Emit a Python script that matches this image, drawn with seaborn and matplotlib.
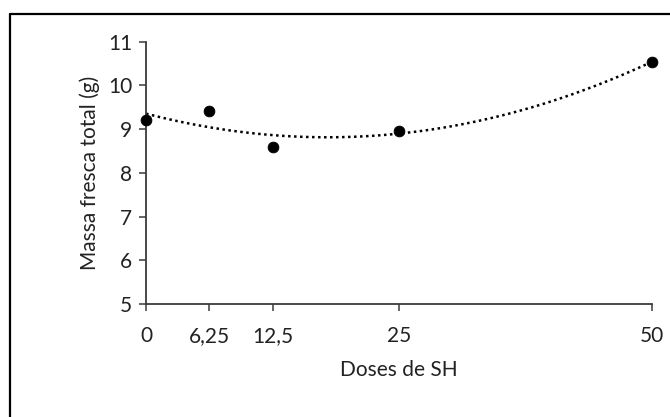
import numpy as np
import pandas as pd
import seaborn as sns
import matplotlib.pyplot as plt
from matplotlib.lines import Line2D

# dados
doses = [0, 6.25, 12.5, 25, 50]
massa = [9.22, 9.41, 8.58, 8.95, 10.54]
xticks = [0, 6.25, 12.5, 25, 50]
xtick_labels = ['0', '6,25', '12,5', '25', '50']
yticks = [5, 6, 7, 8, 9, 10, 11]

df = pd.DataFrame({'dose': doses, 'massa': massa})

sns.set_style('white')
plt.rcParams['font.family'] = ['Lato', 'DejaVu Sans']

fig = plt.figure(figsize=(6.7, 4.17), dpi=100)
ax = fig.add_axes([0.218, 0.271, 0.755, 0.629])

# linha de tendência polinomial (ordem 2), pontilhada
sns.regplot(data=df, x='dose', y='massa', order=2, ci=None, scatter=False,
            line_kws={'color': 'black', 'linestyle': (0, (1, 1.4)), 'linewidth': 1.8},
            ax=ax)
sns.scatterplot(data=df, x='dose', y='massa', color='black', s=60,
                edgecolor='black', clip_on=False, zorder=5, ax=ax)

ax.set_xlim(0, 50)
ax.set_ylim(5, 11)
ax.set_xticks(xticks)
ax.set_xticklabels(xtick_labels)
ax.set_yticks(yticks)

for s in ['top', 'right']:
    ax.spines[s].set_visible(False)
for s in ['left', 'bottom']:
    ax.spines[s].set_color('#3a3a3a')
    ax.spines[s].set_linewidth(1.3)

ax.tick_params(axis='both', direction='out', length=5, width=1.1, color='#3a3a3a',
               labelsize=15, labelcolor='#222222', left=True, bottom=True)
ax.tick_params(axis='x', pad=11)
ax.tick_params(axis='y', pad=5)

ax.set_xlabel('Doses de SH', fontsize=15, color='#222222', labelpad=10)
ax.set_ylabel('Massa fresca total (g)', fontsize=15, color='#222222', labelpad=6)

# moldura (só o topo e a esquerda aparecem no recorte)
fig.add_artist(Line2D([10 / 670, 1.0], [1 - 14 / 417, 1 - 14 / 417],
                      transform=fig.transFigure, color='black', linewidth=1.6))
fig.add_artist(Line2D([10 / 670, 10 / 670], [0.0, 1 - 14 / 417],
                      transform=fig.transFigure, color='black', linewidth=1.6))

fig.savefig('out.png', dpi=100)
